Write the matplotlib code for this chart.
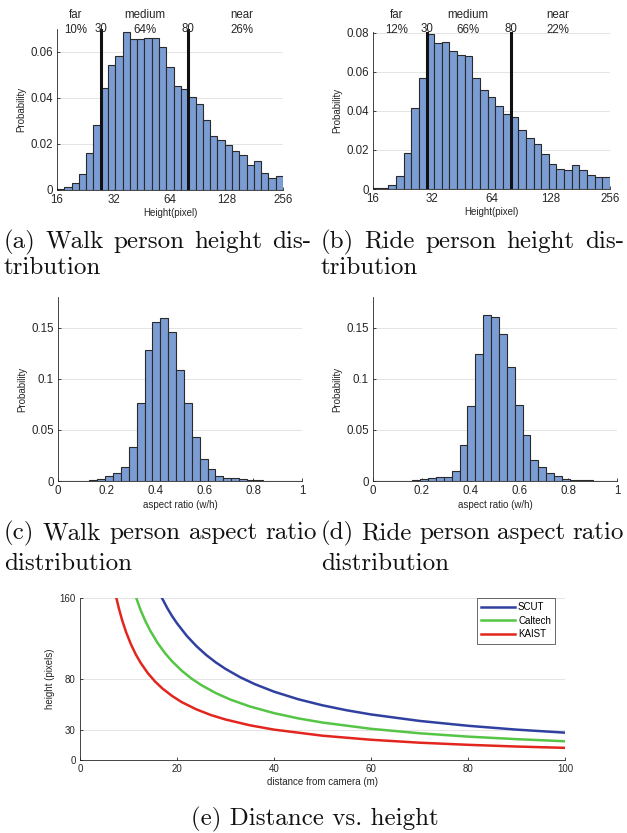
import numpy as np
import matplotlib
matplotlib.use("Agg")
import matplotlib.pyplot as plt
import matplotlib.transforms as mtransforms

plt.rcParams['font.family'] = ['Liberation Sans', 'DejaVu Sans']

# histogram heights (31 bins each)
walk_height = [0.0003, 0.0015, 0.003, 0.0069, 0.016, 0.0284, 0.0443, 0.0542, 0.0583, 0.0687,
               0.0657, 0.0656, 0.066, 0.066, 0.062, 0.0536, 0.0453, 0.0441, 0.0404, 0.0375,
               0.0305, 0.0234, 0.0218, 0.0196, 0.0171, 0.0153, 0.0108, 0.0124, 0.0072, 0.0054, 0.006]
ride_height = [0.0003, 0.0003, 0.0022, 0.0066, 0.0186, 0.0413, 0.0570, 0.0795, 0.0749, 0.0752,
               0.0709, 0.0688, 0.068, 0.0568, 0.051, 0.0473, 0.0427, 0.0387, 0.0369, 0.0304,
               0.026, 0.0229, 0.0177, 0.013, 0.0104, 0.0099, 0.0122, 0.0096, 0.0073, 0.0061, 0.0064]
walk_ratio = [0, 0, 0, 0.0003, 0.0005, 0.0016, 0.005, 0.0081, 0.0137, 0.0332,
              0.0765, 0.128, 0.1558, 0.1594, 0.1454, 0.1083, 0.0765, 0.043, 0.0218, 0.0117,
              0.0052, 0.0033, 0.0026, 0.0016, 0.001, 0.0006, 0.0003, 0.0003, 0.0001, 0.0001, 0.0001]
ride_ratio = [0, 0, 0, 0, 0.0002, 0.001, 0.0023, 0.0026, 0.0036, 0.0042,
              0.0101, 0.0348, 0.0732, 0.1243, 0.162, 0.16, 0.1441, 0.1113, 0.0748, 0.0452,
              0.0208, 0.0137, 0.0078, 0.0046, 0.0023, 0.001, 0.0007, 0.001, 0.0003, 0.0001, 0.0001]

height_ticks = [16, 32, 64, 128, 256]
walk_cuts = [27.4, 80]
ride_cuts = [30, 80]
cut_names = ['30', '80']
walk_labels = [("far", "10%", 20), ("medium", "64%", 47), ("near", "26%", 154)]
ride_labels = [("far", "12%", 21), ("medium", "66%", 48.5), ("near", "22%", 139)]

# distance vs height curves
scut_d = [16.9, 18, 19, 20, 22, 24, 26, 28, 30, 33, 36, 40, 45, 50, 55, 60, 70, 80, 90, 100]
scut_h = [160, 150, 142, 135, 122.7, 112.5, 103.8, 96.4, 90, 81.8, 75, 67.5, 60, 54, 49.1, 45, 38.6, 33.8, 30, 27]
caltech_d = [11.6, 12.5, 13.5, 14.5, 16, 17.5, 19, 21, 23, 25, 28, 31, 35, 40, 45, 50, 60, 70, 80, 90, 100]
caltech_h = [160, 148, 137, 127.6, 115.6, 105.7, 97.4, 88.1, 80.4, 74, 66.1, 59.7, 52.9, 46.3, 41.1, 37,
             30.8, 26.4, 23.1, 20.6, 18.5]
kaist_d = [7.5, 8, 8.7, 9.5, 10.5, 11.5, 12.5, 14, 15.5, 17, 19, 21, 24, 27, 30, 35, 40, 50, 60, 70, 80, 90, 100]
kaist_h = [160, 150, 137.9, 126.3, 114.3, 104.3, 96, 85.7, 77.4, 70.6, 63.2, 57.1, 50, 44.4, 40, 34.3, 30,
           24, 20, 17.1, 15, 13.3, 12]

W, H = 627, 833
fig = plt.figure(figsize=(W / 100, H / 100), dpi=100)

BAR = '#7b9dd4'
EDGE = '#2a2a2a'
TXT = '#262626'


def make_ax(l, r, t, b):
    ax = fig.add_axes([l / W, 1 - b / H, (r - l) / W, (b - t) / H])
    for s in ['top', 'right']:
        ax.spines[s].set_visible(False)
    for s in ['left', 'bottom']:
        ax.spines[s].set_color(TXT)
        ax.spines[s].set_linewidth(0.6)
    ax.tick_params(direction='in', length=2.5, width=0.6, colors=TXT, labelsize=8.3, pad=3)
    ax.yaxis.grid(True, color='#e4e4e4', lw=0.7)
    ax.set_axisbelow(True)
    return ax


def height_hist(ax, vals, cuts, labels, ytop, yticks, top, bottom):
    edges = 16 * 2 ** (4 * np.arange(len(vals) + 1) / len(vals))
    ax.set_xscale('log', base=2)
    ax.bar(edges[:-1], vals, width=np.diff(edges), align='edge', color=BAR,
           edgecolor=EDGE, linewidth=0.8)
    ax.set_xlim(16, 256)
    ax.set_ylim(0, ytop)
    ax.set_xticks(height_ticks)
    ax.set_xticklabels([str(v) for v in height_ticks])
    ax.xaxis.set_minor_locator(matplotlib.ticker.NullLocator())
    ax.set_yticks(yticks)
    ax.set_yticklabels(['0'] + ['%g' % v for v in yticks[1:]])

    # x in data, y in axes fraction (from pixel rows above the axes)
    trans = mtransforms.blended_transform_factory(ax.transData, ax.transAxes)
    frac = lambda ypix: (bottom - ypix) / (bottom - top)
    for c, name in zip(cuts, cut_names):
        ax.axvline(c, color='#111111', lw=2.2)
        ax.text(c, frac(29), name, transform=trans, ha='center', va='center',
                fontsize=8.3, color=TXT)
    for name, pct, x in labels:
        ax.text(x, frac(15), name, transform=trans, ha='center', va='center',
                fontsize=8.3, color=TXT)
        ax.text(x, frac(30), pct, transform=trans, ha='center', va='center',
                fontsize=8.3, color=TXT)
    ax.set_xlabel('Height(pixel)', fontsize=7, color=TXT, labelpad=1)
    ax.set_ylabel('Probability', fontsize=7, color=TXT, labelpad=3)


def ratio_hist(ax, vals):
    edges = np.arange(len(vals) + 1) / len(vals)
    ax.bar(edges[:-1], vals, width=np.diff(edges), align='edge', color=BAR,
           edgecolor=EDGE, linewidth=0.8)
    ax.set_xlim(0, 1)
    ax.set_ylim(0, 0.18)
    ax.set_xticks([0, 0.2, 0.4, 0.6, 0.8, 1])
    ax.set_xticklabels(['0', '0.2', '0.4', '0.6', '0.8', '1'])
    ax.set_yticks([0, 0.05, 0.1, 0.15])
    ax.set_yticklabels(['0', '0.05', '0.1', '0.15'])
    ax.set_xlabel('aspect ratio (w/h)', fontsize=7, color=TXT, labelpad=2)
    ax.set_ylabel('Probability', fontsize=7, color=TXT, labelpad=3)


ax1 = make_ax(57, 283, 29, 190)
height_hist(ax1, walk_height, walk_cuts, walk_labels, 0.07, [0, 0.02, 0.04, 0.06], 29, 190)
ax2 = make_ax(373, 610, 32, 189)
height_hist(ax2, ride_height, ride_cuts, ride_labels, 0.0805, [0, 0.02, 0.04, 0.06, 0.08], 32, 189)
ax3 = make_ax(58, 302, 297, 481)
ratio_hist(ax3, walk_ratio)
ax4 = make_ax(373, 617, 297, 481)
ratio_hist(ax4, ride_ratio)

ax5 = make_ax(80, 565, 598, 760)
ax5.tick_params(labelsize=7)
ax5.plot(scut_d, scut_h, color='#3040a0', lw=1.8, label='SCUT')
ax5.plot(caltech_d, caltech_h, color='#55c545', lw=1.8, label='Caltech')
ax5.plot(kaist_d, kaist_h, color='#e2261e', lw=1.8, label='KAIST')
ax5.set_xlim(0, 100)
ax5.set_ylim(0, 160)
ax5.set_xticks([0, 20, 40, 60, 80, 100])
ax5.set_yticks([0, 30, 80, 160])
ax5.set_xlabel('distance from camera (m)', fontsize=7, color=TXT, labelpad=2)
ax5.set_ylabel('height (pixels)', fontsize=7, color=TXT, labelpad=3)
leg = ax5.legend(loc='upper right', bbox_to_anchor=(0.98, 1.0), fontsize=7, frameon=True,
                 fancybox=False, handlelength=3.5, handletextpad=0.3, borderpad=0.45,
                 labelspacing=0.35, borderaxespad=0)
leg.get_frame().set_edgecolor(TXT)
leg.get_frame().set_linewidth(0.6)

# captions (serif, justified like LaTeX)
CAP = dict(family='cmr10', fontsize=18, color='#111111', va='baseline')
renderer = fig.canvas.get_renderer()


def caption(text, x0, x1, y, justify):
    if not justify:
        fig.text(x0 / W, 1 - y / H, text, ha='left', **CAP)
        return
    words = text.split()
    objs = [fig.text(0, 1 - y / H, w, ha='left', **CAP) for w in words]
    widths = [o.get_window_extent(renderer).width for o in objs]
    gap = (x1 - x0 - sum(widths)) / (len(words) - 1)
    x = x0
    for o, wd in zip(objs, widths):
        o.set_x(x / W)
        x += wd + gap


caption('(a) Walk person height dis-', 4, 311, 248, True)
caption('tribution', 4, 311, 274, False)
caption('(b) Ride person height dis-', 321, 624, 248, True)
caption('tribution', 321, 624, 274, False)
caption('(c) Walk person aspect ratio', 4, 317, 539, True)
caption('distribution', 4, 317, 570, False)
caption('(d) Ride person aspect ratio', 321, 624, 539, True)
caption('distribution', 321, 624, 570, False)
fig.text(315 / W, 1 - 825 / H, '(e) Distance vs. height', ha='center', **CAP)

fig.savefig('out.png', dpi=100)
